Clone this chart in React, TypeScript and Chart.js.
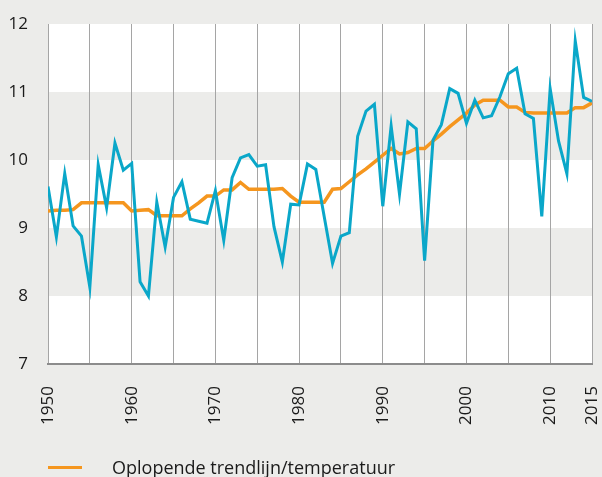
import React, { useEffect, useRef } from "react";
import { Chart, registerables } from "chart.js";

Chart.register(...registerables);

// ---- data ----
const years = [
  1950, 1951, 1952, 1953, 1954, 1955, 1956, 1957, 1958, 1959,
  1960, 1961, 1962, 1963, 1964, 1965, 1966, 1967, 1968, 1969,
  1970, 1971, 1972, 1973, 1974, 1975, 1976, 1977, 1978, 1979,
  1980, 1981, 1982, 1983, 1984, 1985, 1986, 1987, 1988, 1989,
  1990, 1991, 1992, 1993, 1994, 1995, 1996, 1997, 1998, 1999,
  2000, 2001, 2002, 2003, 2004, 2005, 2006, 2007, 2008, 2009,
  2010, 2011, 2012, 2013, 2014, 2015,
];

const temperature = [
  9.61, 8.87, 9.8, 9.03, 8.88, 8.13, 9.93, 9.3, 10.25, 9.85,
  9.95, 8.21, 8.0, 9.38, 8.72, 9.45, 9.68, 9.13, 9.1, 9.07,
  9.55, 8.82, 9.74, 10.03, 10.08, 9.91, 9.93, 9.02, 8.5, 9.35,
  9.34, 9.94, 9.86, 9.17, 8.48, 8.88, 8.93, 10.35, 10.72, 10.82,
  9.32, 10.5, 9.5, 10.56, 10.46, 8.52, 10.29, 10.52, 11.05, 10.98,
  10.54, 10.88, 10.62, 10.65, 10.93, 11.27, 11.35, 10.68, 10.61, 9.17,
  11.05, 10.28, 9.8, 11.75, 10.92, 10.86,
];

const trend = [
  9.25, 9.26, 9.26, 9.27, 9.37, 9.37, 9.37, 9.37, 9.37, 9.37,
  9.25, 9.26, 9.27, 9.18, 9.18, 9.18, 9.18, 9.28, 9.37, 9.47,
  9.47, 9.56, 9.56, 9.67, 9.57, 9.57, 9.57, 9.57, 9.58, 9.47,
  9.38, 9.38, 9.38, 9.38, 9.57, 9.58, 9.68, 9.78, 9.87, 9.97,
  10.07, 10.17, 10.09, 10.11, 10.17, 10.17, 10.28, 10.38, 10.49, 10.59,
  10.69, 10.81, 10.88, 10.88, 10.88, 10.78, 10.78, 10.7, 10.69, 10.69,
  10.69, 10.69, 10.69, 10.77, 10.77, 10.84,
];

const yTicks = [7, 8, 9, 10, 11, 12];
const labeledYears = [1950, 1960, 1970, 1980, 1990, 2000, 2010, 2015];
const whiteBandFrom = [7, 9, 11];
const whiteBandTo = [8, 10, 12];

const trendLabel = "Oplopende trendlijn/temperatuur";
const tempLabel = "Temperatuur";

const BG = "#ececea";
const BLUE = "#0aa7c9";
const ORANGE = "#f5961e";
const FONT = "'Open Sans', 'Noto Sans', sans-serif";

const bandsPlugin = {
  id: "bands",
  beforeDraw(chart: any) {
    const { ctx, chartArea, scales } = chart;
    const y = scales.y;
    ctx.save();
    ctx.fillStyle = "#ffffff";
    for (let i = 0; i < whiteBandFrom.length; i++) {
      const top = y.getPixelForValue(whiteBandTo[i]);
      const bottom = y.getPixelForValue(whiteBandFrom[i]);
      ctx.fillRect(chartArea.left, top, chartArea.right - chartArea.left, bottom - top);
    }
    ctx.restore();
  },
};

export default function App() {
  const canvasRef = useRef<HTMLCanvasElement | null>(null);

  useEffect(() => {
    document.body.style.margin = "0";
    document.body.style.background = BG;
    const canvas = canvasRef.current;
    if (!canvas) return;
    const chart = new Chart(canvas, {
      type: "line",
      data: {
        datasets: [
          {
            label: tempLabel,
            data: years.map((yr, i) => ({ x: yr, y: temperature[i] })),
            borderColor: BLUE,
            backgroundColor: BLUE,
            borderWidth: 3,
            pointRadius: 0,
            tension: 0,
          },
          {
            label: trendLabel,
            data: years.map((yr, i) => ({ x: yr, y: trend[i] })),
            borderColor: ORANGE,
            backgroundColor: ORANGE,
            borderWidth: 3.5,
            pointRadius: 0,
            tension: 0,
          },
        ],
      },
      options: {
        animation: false,
        responsive: false,
        maintainAspectRatio: false,
        layout: { padding: { top: 24, right: 10, left: 0, bottom: 0 } },
        plugins: {
          legend: { display: false },
          tooltip: { enabled: false },
        },
        scales: {
          x: {
            type: "linear",
            min: 1950,
            max: 2015,
            afterFit: (s: any) => {
              s.height = 113;
              s.paddingLeft = 0;
              s.paddingRight = 0;
              s.paddingTop = 0;
              s.paddingBottom = 0;
            },
            afterBuildTicks: (s: any) => {
              const t = [];
              for (let v = 1950; v <= 2015; v += 5) t.push({ value: v });
              s.ticks = t;
            },
            ticks: {
              autoSkip: false,
              minRotation: 90,
              maxRotation: 90,
              padding: 22,
              color: "#1a1a1a",
              font: { family: FONT, size: 17 },
              callback: (v: any) => (labeledYears.includes(Number(v)) ? String(v) : ""),
            },
            grid: {
              color: "#a5a5a5",
              lineWidth: 1,
              drawTicks: false,
            },
            border: { display: true, color: "#8c8c8c", width: 2 },
          },
          y: {
            min: 7,
            max: 12,
            afterFit: (s: any) => {
              s.width = 48;
              s.paddingLeft = 0;
              s.paddingRight = 0;
              s.paddingTop = 0;
              s.paddingBottom = 0;
            },
            afterBuildTicks: (s: any) => {
              s.ticks = yTicks.map((v) => ({ value: v }));
            },
            ticks: {
              padding: 20,
              color: "#1a1a1a",
              font: { family: FONT, size: 17 },
              callback: (v: any) => String(v),
            },
            grid: { display: false, drawTicks: false },
            border: { display: false },
          },
        },
      },
      plugins: [bandsPlugin],
    });
    return () => chart.destroy();
  }, []);

  return (
    <div style={{ position: "relative", width: 602, height: 477, background: BG, overflow: "hidden" }}>
      <canvas ref={canvasRef} width={602} height={477} style={{ display: "block" }} />
      <div
        style={{
          position: "absolute",
          left: 48,
          top: 466,
          width: 34,
          height: 3,
          background: ORANGE,
        }}
      />
      <div
        style={{
          position: "absolute",
          left: 112,
          top: 456,
          fontFamily: FONT,
          fontSize: 18,
          lineHeight: "22px",
          color: "#1a1a1a",
          whiteSpace: "nowrap",
        }}
      >
        {trendLabel}
      </div>
    </div>
  );
}
